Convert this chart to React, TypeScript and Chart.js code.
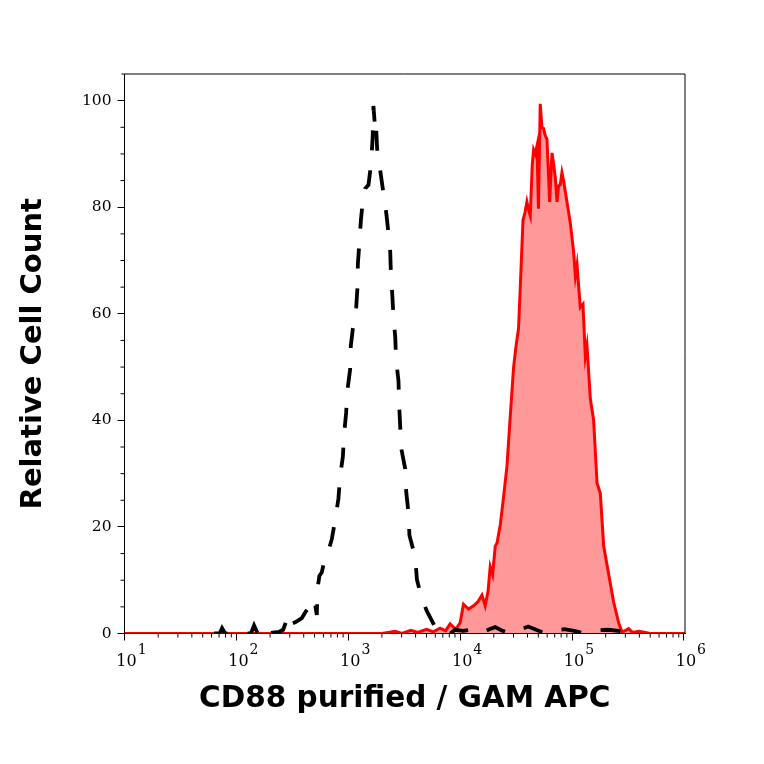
import { useEffect, useRef } from "react"
import { Chart, registerables } from "chart.js"

Chart.register(...registerables)

// isotype control (black dashed), x in log10 decades of fluorescence
const controlLog = [
  1.8, 1.85, 1.872, 1.9, 2.13, 2.158, 2.19, 2.23, 2.248, 2.27, 2.38, 2.418, 2.467, 2.489, 2.534,
  2.585, 2.623, 2.674, 2.695, 2.719, 2.726, 2.742, 2.764, 2.793, 2.823, 2.853, 2.883, 2.912,
  2.928, 2.952, 2.963, 2.981, 2.993, 3.017, 3.023, 3.041, 3.062, 3.071, 3.082, 3.086, 3.1,
  3.113, 3.131, 3.151, 3.181, 3.196, 3.211, 3.218, 3.225, 3.236, 3.245, 3.258, 3.285, 3.312,
  3.339, 3.357, 3.375, 3.381, 3.393, 3.404, 3.42, 3.428, 3.449, 3.455, 3.464, 3.473, 3.509,
  3.518, 3.538, 3.547, 3.598, 3.614, 3.658, 3.703, 3.733, 3.777, 3.822, 3.911, 3.956, 4.028,
  4.1, 4.18, 4.26, 4.314, 4.368, 4.45, 4.546, 4.608, 4.68, 4.76, 4.841, 4.93, 5.02, 5.12,
  5.235, 5.325, 5.415, 5.52,
]
const controlCount = [
  0, 0, 1.0, 0, 0, 1.5, 0, 0.3, 1.0, 0, 0.3, 0.7, 3.5, 1.8, 2.2,
  2.9, 4.2, 5.5, 6.5, 3.5, 8.5, 10.8, 11.5, 14.4, 15.5, 17.7, 21.3, 25.3,
  29.6, 33.2, 37.4, 41.4, 45.7, 49.6, 54.0, 57.2, 59.5, 61.2, 64.8, 69.4, 73.4,
  77.6, 81.3, 83.5, 84.2, 86.8, 90.5, 93, 99.0, 96, 97, 91, 87, 83,
  79, 75.6, 71.7, 67.8, 63.8, 59.6, 55.6, 51.3, 47.4, 43, 39, 34.8, 30.9,
  26.6, 22.7, 18.4, 14.4, 10.1, 6.5, 4.2, 3.0, 1.2, 0, 0, 0.7, 0.5,
  0.7, 0, 0.8, 1.2, 0.6, 0, 0.8, 1.3, 0.7, 0, 0.6, 0.8, 0.5, 0,
  0.6, 0.7, 0.5, 0,
]

// CD88 stained sample (red filled)
const stainedLog = [
  1.0, 3.3, 3.42, 3.48, 3.56, 3.62, 3.7, 3.76, 3.82, 3.87, 3.91, 3.96, 4.0, 4.03, 4.075, 4.12,
  4.16, 4.195, 4.224, 4.25, 4.269, 4.29, 4.314, 4.33, 4.359, 4.388, 4.419, 4.448, 4.478, 4.5,
  4.522, 4.538, 4.562, 4.58, 4.597, 4.612, 4.627, 4.645, 4.657, 4.672, 4.687, 4.7, 4.716,
  4.731, 4.746, 4.76, 4.776, 4.79, 4.8, 4.821, 4.836, 4.851, 4.866, 4.88, 4.895, 4.91, 4.925,
  4.955, 4.985, 5.014, 5.03, 5.045, 5.074, 5.098, 5.119, 5.134, 5.164, 5.193, 5.224, 5.253,
  5.283, 5.327, 5.372, 5.417, 5.447, 5.48, 5.506, 5.54, 5.6, 5.7, 6.01,
]
const stainedCount = [
  0, 0, 0.4, 0, 0.6, 0.2, 0.8, 0.3, 1.0, 0.5, 1.8, 0.8, 2.0, 5.5, 4.6, 5.2,
  6.0, 7.2, 5.2, 8.0, 12.5, 11.0, 16.4, 17.0, 20.4, 25.6, 31.5, 40.8, 50.0, 54.0,
  57.2, 65.1, 77.6, 79.0, 81.0, 79.5, 78.4, 88.0, 90.8, 90.0, 91.5, 79.7, 99.4,
  95.0, 94.8, 93.5, 92.8, 86.0, 81.0, 90.2, 88.0, 85.5, 81.0, 84.0, 84.2, 86.5, 84.9,
  81.0, 77.0, 71.7, 67.1, 69.2, 61.2, 61.8, 52.0, 54.0, 44.0, 40.1, 28.2, 26.3,
  16.4, 11.2, 5.9, 2.0, 0.3, 0.6, 0.9, 0.2, 0.4, 0, 0,
]

const decadeTicks = [1, 2, 3, 4, 5, 6]
const countTicks = [0, 20, 40, 60, 80, 100]

const serif = "'DejaVu Serif', serif"

// frame on top/right, minor ticks and the 10^n labels
const axisExtras = {
  id: "axisExtras",
  afterDraw(chart: Chart) {
    const { ctx, chartArea: a, scales } = chart
    const x = scales.x
    const y = scales.y
    ctx.save()
    ctx.strokeStyle = "#000"
    ctx.lineWidth = 1
    ctx.beginPath()
    ctx.moveTo(a.left - 3, a.top)
    ctx.lineTo(a.right, a.top)
    ctx.lineTo(a.right, a.bottom)
    for (let d = 1; d < 6; d++) {
      for (let m = 2; m <= 9; m++) {
        const px = x.getPixelForValue(d + Math.log10(m))
        ctx.moveTo(px, a.bottom)
        ctx.lineTo(px, a.bottom + 4)
      }
    }
    for (let v = 5; v < 105; v += 5) {
      if (v % 20 === 0) continue
      const py = y.getPixelForValue(v)
      ctx.moveTo(a.left - 4, py)
      ctx.lineTo(a.left, py)
    }
    ctx.stroke()

    ctx.fillStyle = "#000"
    ctx.textBaseline = "alphabetic"
    ctx.textAlign = "left"
    decadeTicks.forEach((d) => {
      const cx = x.getPixelForValue(d) + 7
      ctx.font = `16px ${serif}`
      const w1 = ctx.measureText("10").width
      ctx.font = `14px ${serif}`
      const exp = String(d)
      const w2 = ctx.measureText(exp).width
      const left = cx - (w1 + 1 + w2) / 2
      ctx.font = `16px ${serif}`
      ctx.fillText("10", left, a.bottom + 32)
      ctx.font = `14px ${serif}`
      ctx.fillText(exp, left + w1 + 1, a.bottom + 20)
    })
    ctx.restore()
  },
}

export default function App() {
  const chartRef = useRef<HTMLCanvasElement>(null)
  const chartInstance = useRef<Chart | null>(null)

  useEffect(() => {
    if (!chartRef.current) return
    if (chartInstance.current) {
      chartInstance.current.destroy()
    }
    const ctx = chartRef.current.getContext("2d")
    if (!ctx) return

    chartInstance.current = new Chart(ctx, {
      type: "line",
      data: {
        datasets: [
          {
            label: "Isotype control",
            data: controlLog.map((v, i) => ({ x: v, y: controlCount[i] })),
            borderColor: "#000",
            borderWidth: 3.8,
            borderDash: [20, 20],
            pointRadius: 0,
            fill: false,
            tension: 0,
          },
          {
            label: "CD88 purified / GAM APC",
            data: stainedLog.map((v, i) => ({ x: v, y: stainedCount[i] })),
            borderColor: "#ff0000",
            borderWidth: 3,
            backgroundColor: "rgba(255, 0, 0, 0.4)",
            pointRadius: 0,
            fill: "origin",
            tension: 0,
          },
        ],
      },
      options: {
        responsive: false,
        animation: false,
        layout: {
          padding: { top: 74, right: 79, left: 0, bottom: 0 },
        },
        scales: {
          x: {
            type: "linear",
            min: 1,
            max: 6.01,
            afterBuildTicks: (scale) => {
              scale.ticks = decadeTicks.map((v) => ({ value: v }))
            },
            afterFit: (scale) => {
              scale.height = 130.5
            },
            ticks: { display: false },
            grid: {
              display: true,
              drawOnChartArea: false,
              drawTicks: true,
              tickLength: 7,
              color: "#000",
            },
            border: { display: true, color: "#000", width: 1 },
            title: {
              display: true,
              text: "CD88 purified / GAM APC",
              color: "#000",
              font: { family: "'DejaVu Sans', sans-serif", size: 29.5, weight: "bold", lineHeight: 1 },
              padding: { top: 0, bottom: 50.25 },
            },
          },
          y: {
            min: 0,
            max: 105,
            afterBuildTicks: (scale) => {
              scale.ticks = countTicks.map((v) => ({ value: v }))
            },
            afterFit: (scale) => {
              scale.width = 124.5
            },
            ticks: {
              color: "#000",
              padding: 6,
              font: { family: serif, size: 15.5 },
              callback: (value) => String(value),
            },
            grid: {
              display: true,
              drawOnChartArea: false,
              drawTicks: true,
              tickLength: 7,
              color: "#000",
            },
            border: { display: true, color: "#000", width: 1 },
            title: {
              display: true,
              text: "Relative Cell Count",
              color: "#000",
              font: { family: "'DejaVu Sans', sans-serif", size: 29, weight: "bold", lineHeight: 1 },
              padding: { top: 18.5, bottom: 0 },
            },
          },
        },
        plugins: {
          legend: { display: false },
          tooltip: { enabled: false },
        },
      },
      plugins: [axisExtras],
    })

    return () => {
      if (chartInstance.current) {
        chartInstance.current.destroy()
        chartInstance.current = null
      }
    }
  }, [])

  return (
    <canvas
      ref={chartRef}
      width={764}
      height={764}
      style={{ position: "absolute", left: 0, top: 0, display: "block" }}
    />
  )
}
